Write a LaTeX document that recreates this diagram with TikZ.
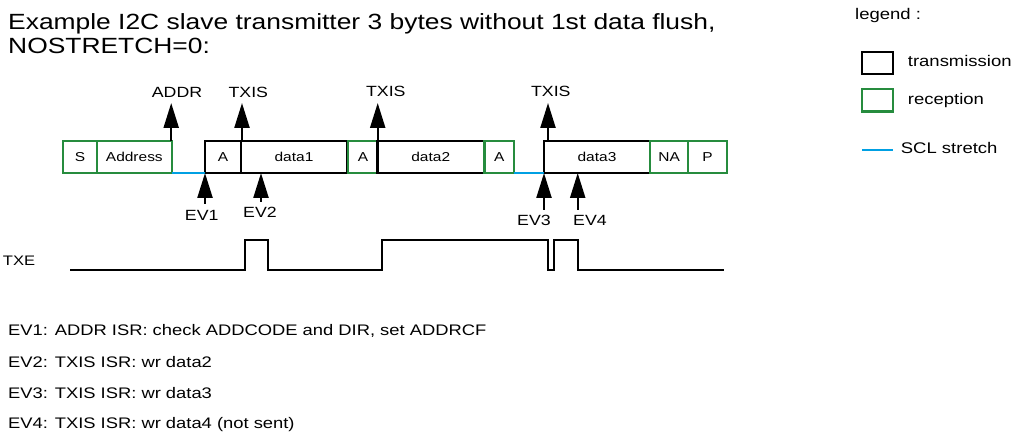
\documentclass[tikz,border=0pt]{standalone}
\usepackage{fontspec}
\setmainfont{Liberation Sans}[FakeStretch=1.2]
\usetikzlibrary{arrows.meta}
\definecolor{rxgreen}{RGB}{38,140,62}
\definecolor{sclblue}{RGB}{0,160,227}
\tikzset{
  frame/.style={draw, line width=2.2pt, rectangle, inner sep=0pt, outer sep=0pt,
    minimum height=32pt, text height=9.2pt, text depth=0pt,
    font=\fontsize{12.9}{15}\selectfont},
  txbox/.style={frame, draw=black},
  rxbox/.style={frame, draw=rxgreen},
  sclline/.style={draw=sclblue, line width=2.2pt},
  evarrow/.style={line width=2.3pt, -{Triangle[length=25pt,width=15pt]}},
  lbl/.style={inner sep=0pt, anchor=base, font=\fontsize{14.8}{17}\selectfont},
  txt/.style={inner sep=0pt, anchor=base west, font=\fontsize{15.3}{18}\selectfont},
  legtxt/.style={inner sep=0pt, anchor=base west, font=\fontsize{15.4}{18}\selectfont},
  titletxt/.style={inner sep=0pt, anchor=base west, font=\fontsize{22}{26}\selectfont},
  legbox/.style={draw, line width=2.2pt, rectangle, inner sep=0pt, minimum width=31pt, minimum height=22.3pt},
  wave/.style={line width=2pt, line join=miter}
}
\begin{document}
\begin{tikzpicture}[x=1pt, y=-1pt]
\useasboundingbox (0,0) rectangle (1025,438);

% title
\node[titletxt] (title1) at (8,29.6) {Example I2C slave transmitter 3 bytes without 1st data flush,};
\node[titletxt] (title2) at (8,53.7) {NOSTRETCH=0:};

% frame boxes
\node[rxbox, minimum width=33.4pt] (S) at (80,157) {S};
\node[rxbox, minimum width=75.3pt] (Address) at (134.35,157) {Address};
\node[txbox, minimum width=36pt] (A1) at (223,157) {A};
\node[txbox, minimum width=106pt] (data1) at (294,157) {data1};
\node[rxbox, minimum width=29.5pt] (A2) at (363,157) {A};
\node[txbox, minimum width=106.5pt] (data2) at (430.75,157) {data2};
\node[rxbox, minimum width=29.5pt] (A3) at (499.25,157) {A};
\node[txbox, minimum width=106pt] (data3) at (597,157) {data3};
\node[rxbox, minimum width=38.3pt] (NA) at (669.15,157) {NA};
\node[rxbox, minimum width=38.4pt] (P) at (707.5,157) {P};

% SCL stretch
\draw[sclline] (Address.south east) -- (A1.south west);
\draw[sclline] (A3.south east) -- (data3.south west);

% top event labels and arrows
\node[lbl] (lADDR) at (177,97.8) {ADDR};
\node[lbl] (lTXIS1) at (248.3,97.5) {TXIS};
\node[lbl] (lTXIS2) at (385.8,97) {TXIS};
\node[lbl] (lTXIS3) at (550.8,97) {TXIS};
\coordinate (tADDR) at (171.2,103);
\coordinate (tTXIS1) at (242,103);
\coordinate (tTXIS2) at (377.7,103);
\coordinate (tTXIS3) at (548,103);
\draw[evarrow] (tADDR |- Address.north) -- (tADDR);
\draw[evarrow] (tTXIS1 |- data1.north) -- (tTXIS1);
\draw[evarrow] (tTXIS2 |- data2.north) -- (tTXIS2);
\draw[evarrow] (tTXIS3 |- data3.north) -- (tTXIS3);

% bottom event arrows and labels
\coordinate (ev1) at (205,204);
\coordinate (ev2) at (261,202);
\coordinate (ev3) at (544,210);
\coordinate (ev4) at (577.7,210);
\draw[evarrow] (ev1) -- (A1.south west);
\draw[evarrow] (ev2) -- (ev2 |- data1.south);
\draw[evarrow] (ev3) -- (data3.south west);
\draw[evarrow] (ev4) -- (ev4 |- data3.south);
\node[lbl] (lEV1) at (201.7,220.4) {EV1};
\node[lbl] (lEV2) at (260,217.9) {EV2};
\node[lbl] (lEV3) at (534,225.4) {EV3};
\node[lbl] (lEV4) at (590,225.4) {EV4};

% TXE waveform
\node[inner sep=0pt, anchor=base west, font=\fontsize{13.8}{16}\selectfont] (TXE) at (2.7,266) {TXE};
\draw[wave] (70,270) -- (245,270) -- (245,240) -- (267.7,240) -- (267.7,270)
  -- (381.7,270) -- (381.7,240) -- (548.3,240) -- (548.3,270) -- (554.3,270)
  -- (554.3,240) -- (578.3,240) -- (578.3,270) -- (724,270);

% event descriptions
\node[txt] (d1) at (8,335.5) {EV1: ADDR ISR: check ADDCODE and DIR, set ADDRCF};
\node[txt] (d2) at (8,367.2) {EV2: TXIS ISR: wr data2};
\node[txt] (d3) at (8,398.2) {EV3: TXIS ISR: wr data3};
\node[txt] (d4) at (8,428.5) {EV4: TXIS ISR: wr data4 (not sent)};

% legend
\node[legtxt] (legend) at (855,19.5) {legend :};
\node[legbox, draw=black] (legtx) at (877.8,62.85) {};
\node[legtxt] (legtxl) at (907.7,66.7) {transmission};
\node[legbox, draw=rxgreen] (legrx) at (877.8,100.35) {};
\node[legtxt] (legrxl) at (907.7,104.3) {reception};
\coordinate (sclA) at (862,150);
\coordinate (sclB) at (893,150);
\draw[sclline] (sclA) -- (sclB);
\node[legtxt] (legscl) at (900.7,154) {SCL stretch};
\end{tikzpicture}
\end{document}
